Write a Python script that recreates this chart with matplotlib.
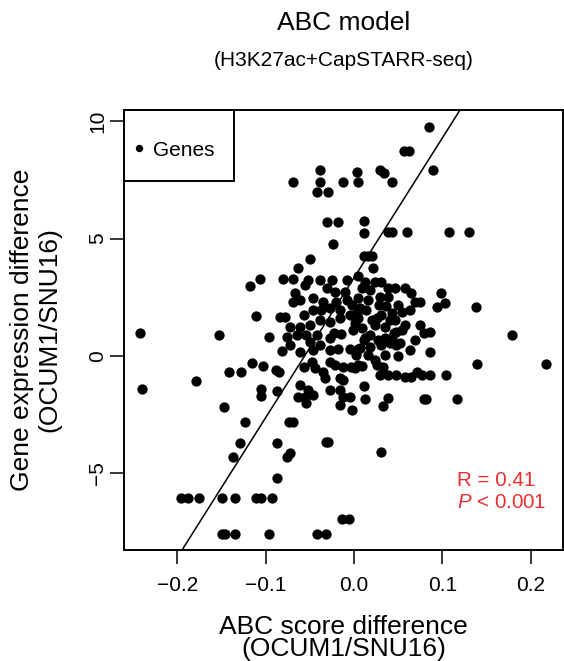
import matplotlib
matplotlib.use("Agg")
import matplotlib.pyplot as plt
from matplotlib.lines import Line2D
from matplotlib.patches import Rectangle

plt.rcParams['font.family'] = ['Liberation Sans', 'DejaVu Sans']
plt.rcParams['mathtext.fontset'] = 'custom'
plt.rcParams['mathtext.rm'] = 'Liberation Sans'
plt.rcParams['mathtext.it'] = 'Liberation Sans:italic'

# ---- data (ABC score difference, gene expression difference) ----
abc_diff = [
    0.085, 0.057, 0.062, -0.039, 0.003, 0.029, 0.034, 0.089, -0.069, -0.039,
    -0.013, 0.004, 0.043, -0.042, -0.029, -0.031, -0.018, 0.011, 0.011, -0.024,
    0.039, 0.043, 0.060, 0.108, 0.130, 0.011, 0.016, 0.020, -0.050, -0.063,
    0.022, -0.118, -0.106, -0.080, -0.069, -0.056, -0.039, -0.025, -0.008, 0.013,
    0.024, 0.031, -0.067, -0.069, -0.046, -0.031, -0.022, 0.009, 0.039, 0.046,
    0.058, 0.065, 0.099, 0.075, 0.103, 0.094, 0.138, 0.069, 0.029, 0.039,
    0.005, 0.016, 0.028, -0.035, -0.020, -0.008, -0.111, -0.084, -0.078, -0.057,
    -0.046, -0.037, -0.027, 0.007, 0.063, 0.054, 0.043, 0.031, 0.075, 0.086,
    0.079, 0.058, 0.054, 0.048, 0.045, 0.005, 0.009, 0.018, 0.024, 0.035,
    0.026, -0.073, -0.061, -0.050, -0.039, -0.027, -0.016, -0.005, 0.003, 0.001,
    -0.096, -0.076, -0.065, -0.054, -0.042, -0.023, -0.015, -0.001, -0.242, -0.153,
    -0.027, 0.052, 0.041, 0.086, 0.179, 0.218, 0.139, 0.104, 0.079, 0.082,
    0.117, 0.013, 0.011, 0.038, 0.033, -0.002, 0.024, 0.026, 0.033, 0.009,
    0.001, 0.029, 0.039, 0.048, 0.058, 0.065, 0.071, 0.077, 0.086, 0.007,
    0.018, 0.031, 0.048, 0.013, 0.035, -0.012, -0.016, -0.005, -0.016, 0.031,
    -0.014, -0.006, -0.081, -0.116, -0.103, -0.142, -0.128, -0.088, -0.085, -0.179,
    -0.240, -0.105, -0.105, -0.087, -0.147, -0.123, -0.074, -0.069, -0.129, -0.087,
    -0.032, -0.029, -0.137, -0.076, -0.072, -0.087, -0.196, -0.188, -0.176, -0.150,
    -0.135, -0.111, -0.105, -0.093, -0.149, -0.146, -0.135, -0.096, -0.042, -0.032,
    -0.057, -0.048, -0.044, -0.035, -0.027, -0.022, -0.012, -0.003, 0.005, -0.033,
    -0.016, -0.061, -0.052, -0.046, -0.056, -0.063, -0.054, -0.027, -0.012, -0.046,
    -0.050, -0.018, -0.005, 0.005,
    0.005, 0.018, 0.014, 0.020, 0.041, 0.050, 0.036, 0.011, 0.027, 0.043,
    -0.002, -0.010, -0.016, -0.039, -0.027, -0.061, -0.073, -0.061, -0.052, 0.002,
    0.016, 0.035, 0.050, 0.063, 0.069, 0.046,
]
expr_diff = [
    9.76, 8.73, 8.73, 7.92, 7.83, 7.92, 7.81, 7.92, 7.40, 7.40,
    7.40, 7.40, 7.40, 7.00, 6.97, 5.72, 5.72, 5.75, 5.23, 4.76,
    5.30, 5.30, 5.30, 5.30, 5.30, 4.26, 4.26, 4.26, 4.12, 3.74,
    3.74, 3.00, 3.27, 3.27, 3.27, 3.03, 3.24, 3.24, 3.24, 3.17,
    3.17, 3.17, 2.67, 2.31, 2.46, 2.88, 2.74, 2.88, 2.88, 2.88,
    2.88, 2.67, 2.67, 2.29, 2.25, 2.10, 2.09, 2.31, 2.53, 2.53,
    2.46, 2.39, 2.17, 2.31, 2.31, 2.39, 1.72, 1.67, 1.67, 1.75,
    1.96, 1.96, 2.03, 2.03, 1.96, 1.89, 1.82, 1.75, 1.32, 1.04,
    0.97, 1.32, 1.11, 1.04, 0.97, 1.61, 1.18, 0.89, 1.32, 1.25,
    1.61, 1.25, 1.25, 1.32, 1.53, 1.46, 1.61, 1.75, 1.82, 1.39,
    0.79, 0.82, 0.89, 0.89, 0.89, 0.97, 0.94, 1.11, 0.97, 0.91,
    0.75, 0.54, 0.54, 0.16, 0.91, -0.35, -0.35, -0.81, -1.82, -1.82,
    -1.83, -1.83, -1.27, -1.78, -2.13, -2.30, -0.17, -0.38, -0.48, -0.41,
    -0.52, -0.81, -0.81, -0.81, -0.88, -0.88, -0.69, -0.81, -0.81, 0.33,
    0.40, 0.47, 0.47, 0.75, 0.75, -1.02, -1.45, -1.73, -2.09, -4.10,
    -6.96, -6.97, 0.23, -0.31, -0.41, -0.69, -0.69, -0.60, -0.69, -1.05,
    -1.42, -1.42, -1.70, -1.48, -2.16, -2.82, -2.82, -2.82, -3.72, -3.72,
    -3.65, -3.65, -4.32, -4.29, -4.12, -5.21, -6.06, -6.06, -6.06, -6.06,
    -6.06, -6.06, -6.06, -6.06, -7.58, -7.58, -7.58, -7.58, -7.58, -7.58,
    -0.46, -0.25, -0.52, -0.67, -0.24, -0.38, -0.46, -0.46, -0.38, -0.95,
    -0.95, -1.24, -1.45, -1.66, -1.73, -1.73, -2.02, -1.45, -1.73, 0.26,
    0.61, 0.30, 0.30, 0.30,
    3.41, 2.81, 1.96, 1.53, 1.53, 2.17, 2.13, 0.68, 0.68, 0.77,
    2.17, 2.73, 1.96, 0.47, 0.26, 0.17, 0.47, 2.39, 3.24, 0.04,
    0.04, 0.04, 0.00, 0.26, 0.68, 1.53,
]

fit_intercept = 3.33
fit_slope = 59.56

x_ticks = [-0.2, -0.1, 0.0, 0.1, 0.2]
x_ticklabels = ["\u22120.2", "\u22120.1", "0.0", "0.1", "0.2"]
y_ticks = [-5, 0, 5, 10]
y_ticklabels = ["\u22125", "0", "5", "10"]

W, H = 564, 661
fig = plt.figure(figsize=(W / 100, H / 100), dpi=100)
ax = fig.add_axes([124 / W, 1 - 550 / H, (563 - 124) / W, (550 - 110) / H])

ax.plot(abc_diff, expr_diff, linestyle='none', marker='o', ms=7.4,
        color='black', markeredgewidth=0)
ax.axline((0, fit_intercept), slope=fit_slope, color='black', lw=1.1)

ax.set_xlim(-0.2605, 0.2367)
ax.set_ylim(-8.27, 10.48)

ax.set_xticks(x_ticks)
ax.set_xticklabels(x_ticklabels, fontsize=15)
ax.set_yticks(y_ticks)
ax.set_yticklabels(y_ticklabels, fontsize=15, rotation=90, va='center')
ax.tick_params(axis='both', direction='out', length=10, width=1.1)
ax.tick_params(axis='x', pad=9)
ax.tick_params(axis='y', pad=2)
for s in ax.spines.values():
    s.set_linewidth(1.4)

# legend
ax.add_patch(Rectangle((0, 1 - 71 / 440), 110 / 439, 71 / 440,
                       transform=ax.transAxes, fill=False, edgecolor='black',
                       lw=1.4, clip_on=False, zorder=5))
h = Line2D([], [], linestyle='none', marker='o', ms=5.3, color='black',
           markeredgewidth=0)
ax.legend(handles=[h], labels=['Genes'], loc='center left',
          bbox_to_anchor=((134 - 124) / 439, 1 - (150 - 110) / 440),
          frameon=False, borderpad=0, borderaxespad=0, handlelength=0.5,
          handletextpad=0.4, fontsize=15)

# statistics text
red = '#E83030'
fig.text(457 / W, 1 - 480 / H, "R = 0.41", color=red, fontsize=14.8,
         ha='left', va='center')
fig.text(457 / W, 1 - 503 / H, "$P$ < 0.001", color=red, fontsize=14.8,
         ha='left', va='center')

# titles and axis labels
fig.text(343.5 / W, 1 - 23 / H, "ABC model", fontsize=19, ha='center', va='center')
fig.text(343.5 / W, 1 - 61 / H, "(H3K27ac+CapSTARR-seq)", fontsize=15,
         ha='center', va='center')
fig.text(343.5 / W, 1 - 627 / H, "ABC score difference", fontsize=19,
         ha='center', va='center')
fig.text(343.5 / W, 1 - 649 / H, "(OCUM1/SNU16)", fontsize=19,
         ha='center', va='center')
fig.text(22 / W, 1 - 330 / H, "Gene expression difference", fontsize=19,
         ha='center', va='center', rotation=90)
fig.text(49 / W, 1 - 330 / H, "(OCUM1/SNU16)", fontsize=19,
         ha='center', va='center', rotation=90)

fig.savefig("out.png", dpi=100)
